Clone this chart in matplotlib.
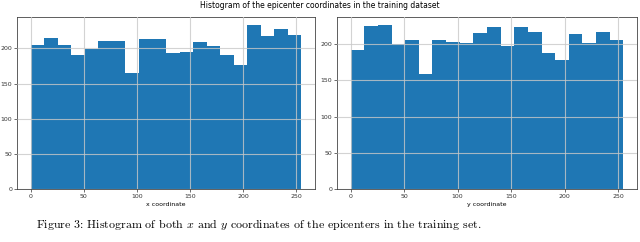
import numpy as np
import matplotlib.pyplot as plt

plt.rcParams['mathtext.fontset'] = 'cm'

# 20 bins over 0..255
edges = np.linspace(0, 255, 21)
x_counts = [205, 215, 205, 190, 199, 210, 210, 165, 213, 213,
            193, 195, 209, 203, 190, 176, 233, 218, 228, 219]
y_counts = [192, 225, 226, 200, 205, 158, 206, 203, 201, 215,
            223, 197, 224, 216, 187, 178, 214, 202, 217, 206]
x_ticks = [0, 50, 100, 150, 200, 250]
y_ticks = [0, 50, 100, 150, 200]

fig = plt.figure(figsize=(6.4, 2.42), dpi=100)
ax1 = fig.add_axes([17/640, 53/242, 298/640, 172/242])
ax2 = fig.add_axes([337/640, 53/242, 300/640, 172/242])

centers = (edges[:-1] + edges[1:]) / 2
for ax, counts, lab in [(ax1, x_counts, "x coordinate"), (ax2, y_counts, "y coordinate")]:
    ax.hist(centers, bins=edges, weights=counts, color="#1f77b4", zorder=2)
    ax.grid(True, color="#c8c8c8", linewidth=0.8, alpha=0.8, zorder=3)
    ax.set_axisbelow(False)
    ax.set_xticks(x_ticks)
    ax.set_yticks(y_ticks)
    ax.tick_params(labelsize=4.5, length=2, width=0.5, pad=1.5, colors="#333333")
    ax.set_xlabel(lab, fontsize=4.5, labelpad=2)
    for s in ax.spines.values():
        s.set_linewidth(0.6)
        s.set_color("#444444")

fig.text(0.5, 1 - 5/242, "Histogram of the epicenter coordinates in the training dataset",
         ha="center", va="center", fontsize=5.5)
fig.text(259/640, 1 - 224/242,
         "Figure 3: Histogram of both $x$ and $y$ coordinates of the epicenters in the training set.",
         ha="center", va="center", fontsize=8.6, family="cmr10")

fig.savefig("out.png", dpi=100)
